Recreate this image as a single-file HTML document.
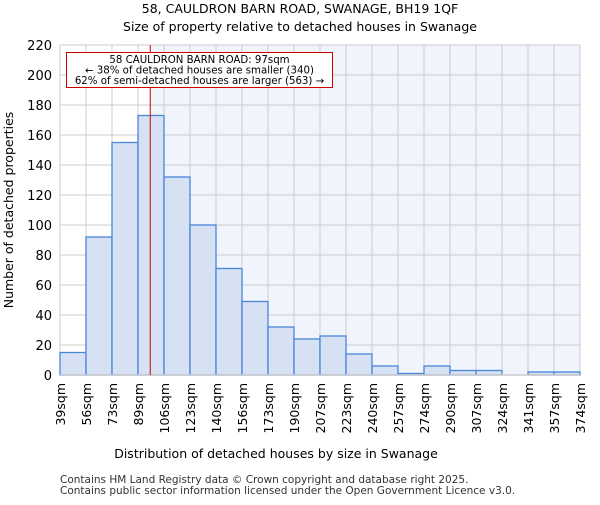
<!DOCTYPE html>
<html><head><meta charset="utf-8"><style>body{margin:0;background:#fff}svg{font-family:"DejaVu Sans","Liberation Sans",sans-serif}</style></head>
<body>
<svg id="chart" width="600" height="500" xmlns="http://www.w3.org/2000/svg">
<text x="300" y="13" text-anchor="middle" font-size="12.5">58, CAULDRON BARN ROAD, SWANAGE, BH19 1QF</text>
<text x="300" y="31" text-anchor="middle" font-size="12.5">Size of property relative to detached houses in Swanage</text>
<g id="plot"></g>
<text x="276" y="458" text-anchor="middle" font-size="12.5">Distribution of detached houses by size in Swanage</text>
<text transform="translate(13,210) rotate(-90)" text-anchor="middle" font-size="12.5">Number of detached properties</text>
<text x="60" y="483" font-size="10.5" fill="#333">Contains HM Land Registry data © Crown copyright and database right 2025.</text>
<text x="60" y="494" font-size="10.5" fill="#333">Contains public sector information licensed under the Open Government Licence v3.0.</text>
</svg>
<script>
const categories=["39sqm","56sqm","73sqm","89sqm","106sqm","123sqm","140sqm","156sqm","173sqm","190sqm","207sqm","223sqm","240sqm","257sqm","274sqm","290sqm","307sqm","324sqm","341sqm","357sqm","374sqm"];
const counts=[15,92,155,173,132,100,71,49,32,24,26,14,6,1,6,3,3,0,2,2];
const yTicks=[0,20,40,60,80,100,120,140,160,180,200,220];
const binEdges=[39,56,73,89,106,123,140,156,173,190,207,223,240,257,274,290,307,324,341,357,374];
const propertySize=97;
const X0=60,X1=580,Y0=375,Y1=45,YMAX=220;
const bw=(X1-X0)/counts.length;
const ns="http://www.w3.org/2000/svg";
const g=document.getElementById('plot');
const yS=v=>Y0-(v/YMAX)*(Y0-Y1);
function xVal(v){let i=0;while(i<binEdges.length-2&&v>binEdges[i+1])i++;return X0+(i+(v-binEdges[i])/(binEdges[i+1]-binEdges[i]))*bw;}
function mk(t,a){const e=document.createElementNS(ns,t);for(const k in a)e.setAttribute(k,a[k]);g.appendChild(e);return e;}
const mx=xVal(propertySize);
let e=mk('rect',{x:X0,y:Y1,width:X1-X0,height:Y0-Y1,fill:'#fff'});


e=mk('rect',{x:mx,y:Y1,width:X1-mx,height:Y0-Y1,fill:'#f0f4fc'});


yTicks.forEach(t=>{const y=yS(t);
e=mk('line',{x1:X0,x2:X1,y1:y,y2:y,stroke:'#cccccc','stroke-width':1});


e=mk('text',{x:X0-8,y:y+5,'text-anchor':'end','font-size':13});e.textContent=t;

});
categories.forEach((c,i)=>{const x=X0+i*bw;
e=mk('line',{x1:x,x2:x,y1:Y1,y2:Y0,stroke:'#cccccc','stroke-width':1});


e=mk('text',{transform:`translate(${x+5},${Y0+8}) rotate(-90)`,'text-anchor':'end','font-size':12.5});e.textContent=c;

});
counts.forEach((v,i)=>{if(v<=0)return;
e=mk('rect',{x:X0+i*bw,y:yS(v),width:bw,height:Y0-yS(v),fill:'#d6e1f3',stroke:'#4a86d8','stroke-width':1.3});

});
e=mk('line',{x1:X0,x2:X1,y1:Y0,y2:Y0,stroke:'#ccc','stroke-width':1.5});


e=mk('line',{x1:mx,x2:mx,y1:Y1,y2:Y0,stroke:'#cc0000','stroke-width':1});


e=mk('rect',{x:66.5,y:52.5,width:266,height:35,fill:'#fff',stroke:'#cc0000','stroke-width':1});


["58 CAULDRON BARN ROAD: 97sqm","← 38% of detached houses are smaller (340)","62% of semi-detached houses are larger (563) →"].forEach((s,i)=>{
e=mk('text',{x:199.5,y:63+i*10.5,'text-anchor':'middle','font-size':10.2});e.textContent=s;

});
</script>
</body></html>
